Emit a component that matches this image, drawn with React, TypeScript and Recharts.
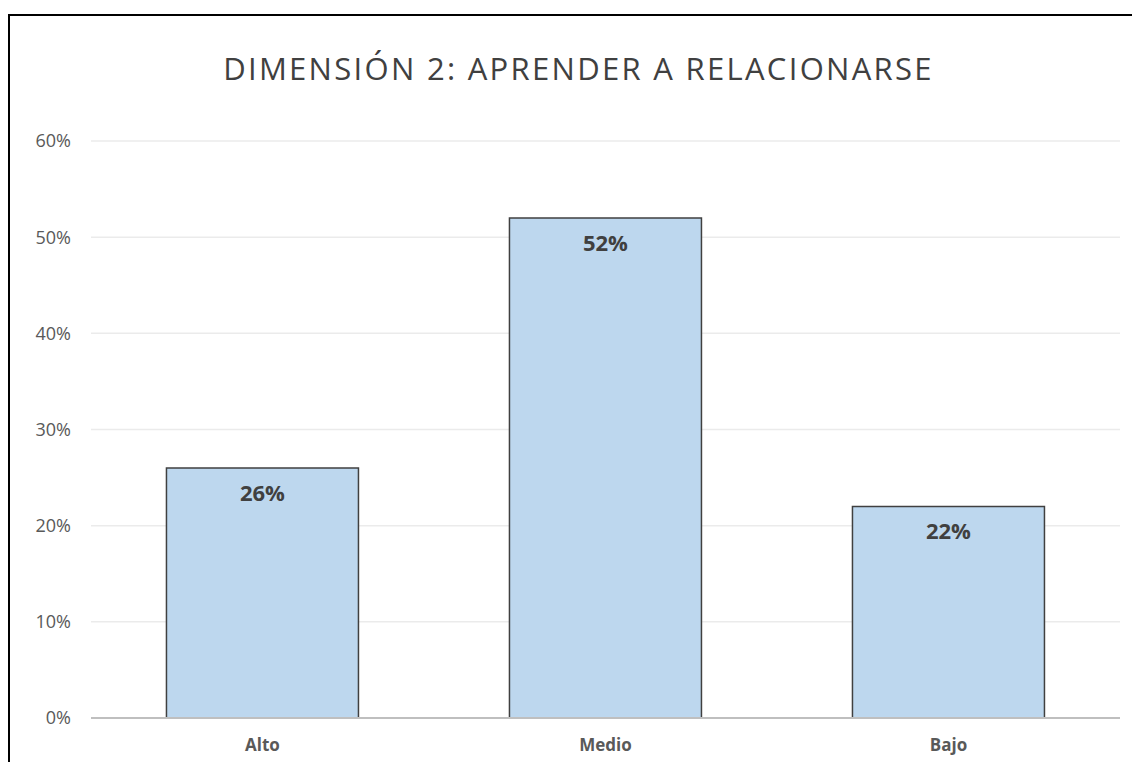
import React from 'react';
import { BarChart, Bar, XAxis, YAxis, CartesianGrid, LabelList } from 'recharts';

// values
const categories = ['Alto', 'Medio', 'Bajo'];
const shares = [26, 52, 22];
const yTicks = [0, 10, 20, 30, 40, 50, 60];

const data = categories.map((name, i) => ({ name, value: shares[i] }));

const font = '"Open Sans", "Noto Sans", sans-serif';

export default function App() {
  return (
    <div style={{ position: 'absolute', left: 0, top: 0, width: 1132, height: 762, background: '#fff', overflow: 'hidden', fontFamily: font }}>
      {/* chart frame, cropped on the right and bottom */}
      <div style={{ position: 'absolute', left: 8, top: 14, right: -4, bottom: -4, borderLeft: '2px solid #000', borderTop: '2px solid #000' }} />
      <div style={{ position: 'absolute', left: 0, width: 1157, top: 47, textAlign: 'center', fontSize: 31, letterSpacing: 2.3, color: '#404040', whiteSpace: 'nowrap' }}>
        DIMENSIÓN 2: APRENDER A RELACIONARSE
      </div>
      <div style={{ position: 'absolute', left: 0, top: 0 }}>
        <BarChart
          width={1132}
          height={762}
          data={data}
          margin={{ top: 141, right: 12, left: 0, bottom: 0 }}
          barCategoryGap="22%"
        >
          <CartesianGrid vertical={false} stroke="#EBEBEB" strokeWidth={1.5} />
          <XAxis
            dataKey="name"
            height={44}
            tickLine={false}
            axisLine={{ stroke: '#BFBFBF', strokeWidth: 2 }}
            tick={{ fill: '#595959', fontSize: 17, fontWeight: 700, fontFamily: font }}
            tickMargin={15}
          />
          <YAxis
            width={91}
            domain={[0, 60]}
            ticks={yTicks}
            tickFormatter={(v: number) => `${v}%`}
            tickLine={false}
            axisLine={false}
            tickMargin={14}
            tick={{ fill: '#595959', fontSize: 18, fontFamily: font }}
          />
          <Bar dataKey="value" fill="#BDD7EE" stroke="#404040" strokeWidth={1.5} isAnimationActive={false}>
            <LabelList
              dataKey="value"
              position="insideTop"
              offset={17}
              formatter={(v: number) => `${v}%`}
              style={{ fill: '#404040', fontSize: 22, fontWeight: 700, fontFamily: font }}
            />
          </Bar>
        </BarChart>
      </div>
    </div>
  );
}
